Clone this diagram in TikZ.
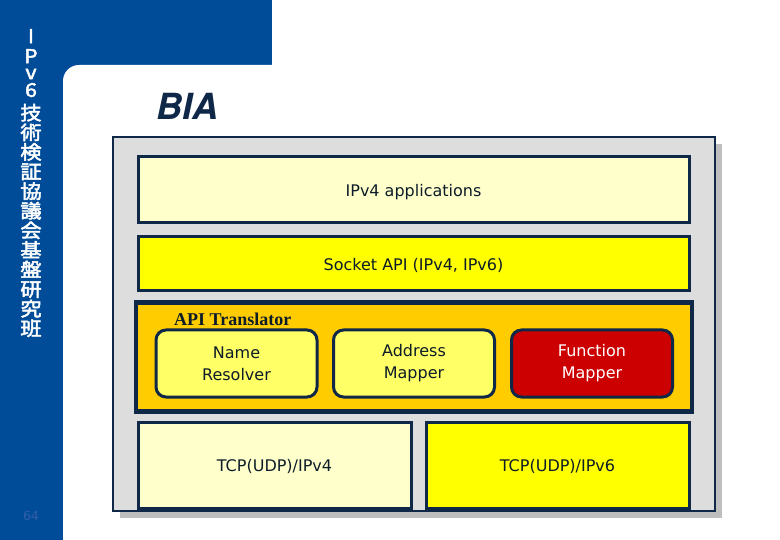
\documentclass[tikz,border=0pt]{standalone}
\usepackage{fontspec}
\newfontfamily\boxfont{DejaVu Sans}
\newfontfamily\biafont{TeX Gyre Heros}
\newfontfamily\tnr{Liberation Serif}
\newfontfamily\jp{Noto Sans CJK JP}[AutoFakeBold=2.5, FakeStretch=1.12]
\definecolor{sideblue}{RGB}{0,76,153}
\definecolor{navy}{RGB}{16,40,72}
\definecolor{panelgray}{RGB}{221,221,221}
\definecolor{shadowgray}{RGB}{190,190,190}
\definecolor{cream}{RGB}{255,255,204}
\definecolor{brightyellow}{RGB}{255,255,0}
\definecolor{gold}{RGB}{255,204,0}
\definecolor{lightyellow}{RGB}{255,255,102}
\definecolor{darkred}{RGB}{204,0,0}
\definecolor{txt}{RGB}{12,28,40}
\definecolor{pagenum}{RGB}{50,95,170}
\begin{document}
\begin{tikzpicture}[x=1pt,y=-1pt,
  layerbox/.style={draw=navy, line width=3pt, inner sep=0pt, text=txt,
    font=\boxfont\fontsize{16}{22}\selectfont, align=center, text depth=0pt},
  funcbox/.style={draw=navy, line width=3pt, rounded corners=10pt, inner sep=0pt,
    minimum width=161pt, minimum height=67pt, text=txt,
    font=\boxfont\fontsize{16}{22}\selectfont, align=center, fill=lightyellow}]
\useasboundingbox (0,0) rectangle (780,540);
\clip (0,0) rectangle (780,540);
% side bars
\fill[sideblue] (0,0) rectangle (272,80);
\fill[sideblue] (0,0) rectangle (63,540);
\fill[white, rounded corners=16pt] (63,65) rectangle (800,560);
% vertical title
\node[anchor=north, inner sep=0pt, text=white, align=center,
  font=\jp\bfseries\fontsize{19}{19.6}\selectfont] (vtitle) at (31,29)
  {I\\[0.4pt]P\\[-3.5pt]v\\[-2pt]6\\[3.5pt]技\\術\\検\\証\\協\\議\\会\\基\\盤\\研\\究\\班};
\node[inner sep=0pt, text=pagenum, font=\boxfont\fontsize{12.5}{14}\selectfont] (pg) at (31,516) {64};
% BIA title
\node[anchor=west, inner sep=0pt, text=navy, font=\biafont\bfseries\itshape\fontsize{36}{40}\selectfont] (bia) at (156,106) {BIA};
% panel
\fill[shadowgray] (120,144) rectangle (722,518);
\draw[navy, line width=2pt, fill=panelgray] (113,137) rectangle (715,511);
% layers
\node[layerbox, fill=cream, minimum width=551pt, minimum height=66pt] (apps) at (413.5,190) {IPv4 applications};
\node[layerbox, fill=brightyellow, minimum width=551pt, minimum height=54pt] (sock) at (413.5,264) {Socket API (IPv4, IPv6)};
\node[draw=navy, line width=4.5pt, fill=gold, inner sep=0pt, minimum width=556pt, minimum height=109pt] (trans) at (414,357) {};
\node[anchor=west, inner sep=0pt, text=txt, font=\tnr\bfseries\fontsize{18}{20}\selectfont] (translbl) at (174,319) {API Translator};
\node[funcbox] (nameres) at (236.5,363.5) {Name\\Resolver};
\node[funcbox] (addrmap) at (414,363.5) {Address\\Mapper};
\node[funcbox, fill=darkred, text=white] (funcmap) at (592,363.5) {Function\\Mapper};
\node[layerbox, fill=cream, minimum width=273pt, minimum height=86pt] (tcp4) at (274.5,465) {TCP(UDP)/IPv4};
\node[layerbox, fill=brightyellow, minimum width=263pt, minimum height=86pt] (tcp6) at (557.5,465) {TCP(UDP)/IPv6};
\end{tikzpicture}
\end{document}
